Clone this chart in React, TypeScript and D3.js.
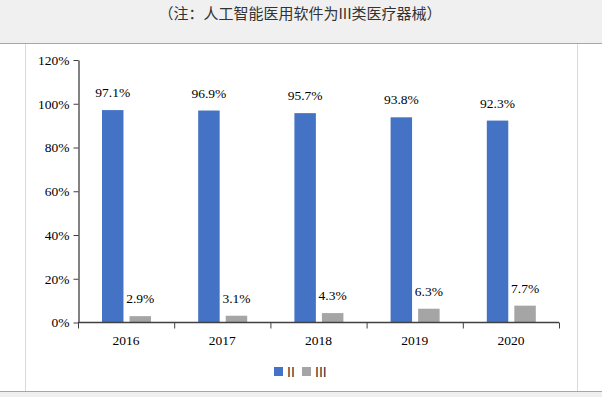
import { useEffect, useRef } from "react";
import * as d3 from "d3";

const years = ["2016", "2017", "2018", "2019", "2020"];
const seriesNames = ["II", "III"];
const valuesII = [97.1, 96.9, 95.7, 93.8, 92.3];
const valuesIII = [2.9, 3.1, 4.3, 6.3, 7.7];
const yTicks = [0, 20, 40, 60, 80, 100, 120];
const colors = ["#4472C4", "#A5A5A5"];
const title = "（注：人工智能医用软件为III类医疗器械）";

const App = () => {
    const svgRef = useRef<SVGSVGElement>(null);

    useEffect(() => {
        const svg = d3.select(svgRef.current);
        svg.selectAll("*").remove();

        const W = 602, H = 397;
        const serif = "'Liberation Serif', 'Times New Roman', serif";

        // fundo e moldura
        svg.append("rect").attr("width", W).attr("height", H).attr("fill", "#f0f0f0");
        svg.append("rect").attr("x", 0).attr("y", 43.5).attr("width", W).attr("height", 347.5).attr("fill", "#fff");
        svg.append("line").attr("x1", 0).attr("x2", W).attr("y1", 43.5).attr("y2", 43.5).attr("stroke", "#a6a6a6");
        svg.append("line").attr("x1", 0).attr("x2", W).attr("y1", 391.5).attr("y2", 391.5).attr("stroke", "#a6a6a6");
        svg.append("line").attr("x1", 25.5).attr("x2", 25.5).attr("y1", 44).attr("y2", 391).attr("stroke", "#d9d9d9");
        svg.append("line").attr("x1", 577.5).attr("x2", 577.5).attr("y1", 44).attr("y2", 391).attr("stroke", "#d9d9d9");

        svg.append("text")
            .attr("x", 300).attr("y", 18.5)
            .attr("text-anchor", "middle")
            .attr("font-family", "'Noto Sans CJK SC', sans-serif")
            .attr("font-size", 15)
            .attr("fill", "#333")
            .text(title);

        // escalas
        const x = d3.scaleBand().domain(years).range([78, 559]).padding(0);
        const xInner = d3.scaleBand().domain(seriesNames).range([24, 73]).paddingInner(0.22);
        const y = d3.scaleLinear().domain([0, 120]).range([322.5, 60]);

        // eixo y
        const yAxis = svg.append("g")
            .attr("transform", "translate(78.5,0)")
            .call(d3.axisLeft(y).tickValues(yTicks).tickFormat(d => `${d}%`).tickSize(5).tickSizeOuter(0));
        yAxis.select(".domain").attr("stroke", "#404040").attr("stroke-width", 1.3);
        yAxis.selectAll(".tick line").attr("stroke", "#404040");
        yAxis.selectAll(".tick text")
            .attr("font-family", serif).attr("font-size", 13.5).attr("fill", "#000").attr("x", -9);

        // barras
        const series = [valuesII, valuesIII];
        series.forEach((vals, si) => {
            const name = seriesNames[si];
            svg.append("g").selectAll("rect")
                .data(vals)
                .join("rect")
                .attr("x", (_, i) => x(years[i])! + xInner(name)!)
                .attr("y", v => y(v))
                .attr("width", xInner.bandwidth())
                .attr("height", v => y(0) - y(v))
                .attr("fill", colors[si]);

            svg.append("g").selectAll("text")
                .data(vals)
                .join("text")
                .attr("x", (_, i) => x(years[i])! + xInner(name)! + xInner.bandwidth() / 2)
                .attr("y", v => y(v) - 13)
                .attr("text-anchor", "middle")
                .attr("font-family", serif)
                .attr("font-size", 13.5)
                .attr("fill", "#000")
                .text(v => `${v.toFixed(1)}%`);
        });

        // eixo x
        const xAxisG = svg.append("g").attr("transform", `translate(0,${y(0)})`);
        xAxisG.append("line")
            .attr("x1", 78).attr("x2", 559)
            .attr("stroke", "#404040").attr("stroke-width", 1.3);
        const boundaries = [...years.map(yr => x(yr)!), x(years[years.length - 1])! + x.bandwidth()];
        xAxisG.selectAll(".tk")
            .data(boundaries)
            .join("line")
            .attr("x1", d => d + 0.5).attr("x2", d => d + 0.5)
            .attr("y1", 0).attr("y2", 6)
            .attr("stroke", "#404040");
        xAxisG.selectAll(".lbl")
            .data(years)
            .join("text")
            .attr("x", d => x(d)! + x.bandwidth() / 2)
            .attr("y", 22)
            .attr("text-anchor", "middle")
            .attr("font-family", serif)
            .attr("font-size", 13.5)
            .attr("fill", "#000")
            .text(d => d);

        // legenda
        const legend = svg.append("g").attr("transform", "translate(274,367)");
        const offsets = [0, 28];
        seriesNames.forEach((name, i) => {
            legend.append("rect")
                .attr("x", offsets[i]).attr("y", 0)
                .attr("width", 9).attr("height", 9)
                .attr("fill", colors[i]);
            legend.append("text")
                .attr("x", offsets[i] + 13).attr("y", 9.5)
                .attr("font-family", "'Liberation Sans', Arial, sans-serif")
                .attr("font-size", 14)
                .attr("fill", "#333")
                .text(name);
        });
    }, []);

    return (
        <svg
            ref={svgRef}
            width={602}
            height={397}
            style={{ position: "absolute", left: 0, top: 0, display: "block" }}
        />
    );
};

export default App;
